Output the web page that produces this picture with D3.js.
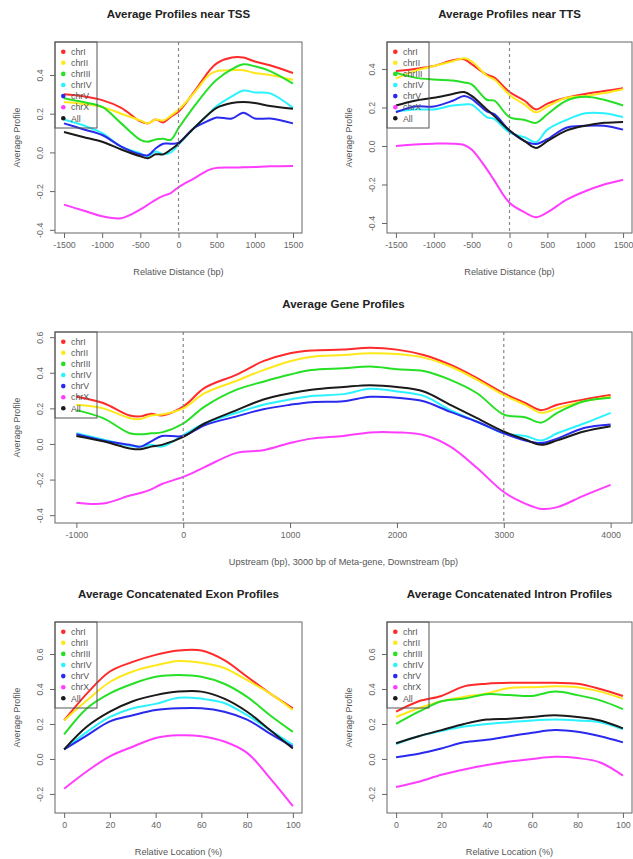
<!DOCTYPE html>
<html>
<head>
<meta charset="utf-8">
<script src="https://cdn.jsdelivr.net/npm/d3@7/dist/d3.min.js"></script>
<style>
  body { margin: 0; background: #fff; }
  svg { display: block; font-family: "Liberation Sans", Arial, sans-serif; }
</style>
</head>
<body>
<div id="chart"></div>
<script>
// ---- data ----

const seriesNames = ["chrI", "chrII", "chrIII", "chrIV", "chrV", "chrX", "All"];

// near TSS
const tssX = [-1500, -1250, -1000, -750, -500, -400, -300, -200, -100, 0, 200, 400, 500, 700, 850, 1000, 1200, 1500];
const tssChrI   = [0.30, 0.29, 0.27, 0.23, 0.16, 0.15, 0.17, 0.155, 0.185, 0.21, 0.31, 0.42, 0.46, 0.49, 0.49, 0.47, 0.45, 0.41];
const tssChrII  = [0.26, 0.25, 0.235, 0.20, 0.165, 0.15, 0.17, 0.165, 0.19, 0.22, 0.305, 0.40, 0.42, 0.425, 0.425, 0.41, 0.40, 0.375];
const tssChrIII = [0.28, 0.26, 0.235, 0.15, 0.065, 0.055, 0.067, 0.07, 0.065, 0.125, 0.235, 0.335, 0.375, 0.43, 0.455, 0.445, 0.42, 0.355];
const tssChrIV  = [0.17, 0.14, 0.10, 0.03, -0.005, -0.02, 0.005, -0.01, 0.0, 0.04, 0.125, 0.20, 0.24, 0.29, 0.32, 0.31, 0.305, 0.23];
const tssChrV   = [0.15, 0.12, 0.09, 0.03, -0.01, -0.015, 0.02, 0.045, 0.045, 0.05, 0.125, 0.165, 0.18, 0.175, 0.205, 0.175, 0.175, 0.15];
const tssChrX   = [-0.27, -0.30, -0.33, -0.34, -0.295, -0.27, -0.245, -0.225, -0.21, -0.18, -0.135, -0.09, -0.08, -0.078, -0.077, -0.075, -0.072, -0.07];
const tssAll    = [0.105, 0.08, 0.055, 0.015, -0.02, -0.03, -0.01, -0.01, 0.015, 0.045, 0.125, 0.20, 0.23, 0.255, 0.26, 0.255, 0.24, 0.225];

// near TTS
const ttsX = [-1500, -1250, -1000, -750, -600, -500, -300, -200, 0, 200, 350, 500, 750, 1000, 1250, 1500];
const ttsChrI   = [0.39, 0.40, 0.415, 0.445, 0.45, 0.425, 0.37, 0.355, 0.28, 0.235, 0.19, 0.22, 0.25, 0.27, 0.285, 0.30];
const ttsChrII  = [0.35, 0.39, 0.415, 0.44, 0.455, 0.44, 0.365, 0.345, 0.265, 0.215, 0.175, 0.205, 0.25, 0.26, 0.275, 0.295];
const ttsChrIII = [0.38, 0.355, 0.345, 0.34, 0.33, 0.32, 0.24, 0.235, 0.15, 0.135, 0.12, 0.165, 0.235, 0.255, 0.24, 0.21];
const ttsChrIV  = [0.18, 0.19, 0.19, 0.21, 0.215, 0.215, 0.15, 0.14, 0.07, 0.045, 0.02, 0.085, 0.135, 0.17, 0.17, 0.15];
const ttsChrV   = [0.175, 0.205, 0.205, 0.235, 0.26, 0.245, 0.18, 0.165, 0.08, 0.025, 0.01, 0.035, 0.095, 0.105, 0.105, 0.085];
const ttsChrX   = [0.0, 0.008, 0.012, 0.012, 0.005, -0.018, -0.12, -0.18, -0.295, -0.345, -0.37, -0.345, -0.28, -0.235, -0.2, -0.175];
const ttsAll    = [0.21, 0.235, 0.25, 0.27, 0.28, 0.26, 0.19, 0.155, 0.08, 0.025, -0.01, 0.025, 0.08, 0.105, 0.12, 0.125];

// meta-gene
const geneX = [-1000, -750, -500, -400, -300, -200, 0, 200, 500, 750, 1000, 1200, 1500, 1750, 2000, 2250, 2500, 2750, 3000, 3200, 3350, 3500, 3750, 4000];
const geneChrI   = [0.265, 0.23, 0.16, 0.155, 0.17, 0.16, 0.21, 0.315, 0.39, 0.465, 0.51, 0.525, 0.53, 0.54, 0.53, 0.50, 0.445, 0.37, 0.285, 0.23, 0.19, 0.22, 0.25, 0.275];
const geneChrII  = [0.22, 0.20, 0.145, 0.14, 0.16, 0.165, 0.20, 0.285, 0.355, 0.415, 0.465, 0.49, 0.50, 0.51, 0.505, 0.485, 0.435, 0.36, 0.275, 0.22, 0.175, 0.20, 0.24, 0.265];
const geneChrIII = [0.19, 0.145, 0.06, 0.055, 0.06, 0.065, 0.115, 0.21, 0.305, 0.35, 0.39, 0.415, 0.425, 0.435, 0.42, 0.41, 0.36, 0.285, 0.165, 0.15, 0.12, 0.175, 0.24, 0.26];
const geneChrIV  = [0.06, 0.025, -0.01, -0.015, -0.005, -0.015, 0.05, 0.115, 0.175, 0.22, 0.25, 0.27, 0.28, 0.31, 0.295, 0.27, 0.19, 0.125, 0.06, 0.045, 0.02, 0.06, 0.115, 0.175];
const geneChrV   = [0.055, 0.02, -0.005, -0.015, 0.015, 0.045, 0.045, 0.105, 0.155, 0.195, 0.22, 0.235, 0.24, 0.265, 0.26, 0.24, 0.18, 0.125, 0.06, 0.02, 0.005, 0.03, 0.09, 0.11];
const geneChrX   = [-0.33, -0.335, -0.29, -0.275, -0.255, -0.225, -0.185, -0.13, -0.05, -0.035, 0.005, 0.03, 0.045, 0.065, 0.065, 0.05, -0.015, -0.135, -0.27, -0.335, -0.365, -0.355, -0.29, -0.23];
const geneAll    = [0.045, 0.015, -0.025, -0.03, -0.015, -0.005, 0.04, 0.115, 0.19, 0.25, 0.285, 0.305, 0.32, 0.33, 0.32, 0.295, 0.22, 0.145, 0.07, 0.025, -0.005, 0.02, 0.07, 0.10];

// concatenated exons
const exonX = [0, 10, 20, 30, 40, 50, 60, 70, 80, 90, 100];
const exonChrI   = [0.22, 0.375, 0.50, 0.555, 0.595, 0.62, 0.62, 0.565, 0.47, 0.375, 0.29];
const exonChrII  = [0.22, 0.335, 0.44, 0.50, 0.535, 0.56, 0.55, 0.52, 0.45, 0.375, 0.28];
const exonChrIII = [0.14, 0.29, 0.375, 0.43, 0.47, 0.48, 0.47, 0.43, 0.355, 0.25, 0.155];
const exonChrIV  = [0.055, 0.155, 0.24, 0.29, 0.315, 0.35, 0.345, 0.32, 0.25, 0.165, 0.08];
const exonChrV   = [0.055, 0.135, 0.215, 0.25, 0.28, 0.29, 0.29, 0.27, 0.225, 0.145, 0.07];
const exonChrX   = [-0.17, -0.07, 0.015, 0.07, 0.12, 0.135, 0.13, 0.10, 0.035, -0.11, -0.27];
const exonAll    = [0.055, 0.185, 0.27, 0.33, 0.365, 0.385, 0.385, 0.345, 0.27, 0.165, 0.06];

// concatenated introns
const intronX = [0, 10, 20, 30, 40, 50, 60, 70, 80, 90, 100];
const intronChrI   = [0.27, 0.33, 0.36, 0.415, 0.43, 0.435, 0.435, 0.435, 0.43, 0.40, 0.36];
const intronChrII  = [0.24, 0.29, 0.33, 0.355, 0.375, 0.405, 0.41, 0.415, 0.41, 0.385, 0.345];
const intronChrIII = [0.20, 0.27, 0.33, 0.345, 0.37, 0.365, 0.36, 0.385, 0.365, 0.335, 0.285];
const intronChrIV  = [0.085, 0.13, 0.16, 0.185, 0.20, 0.21, 0.22, 0.225, 0.22, 0.21, 0.17];
const intronChrV   = [0.01, 0.03, 0.06, 0.095, 0.11, 0.13, 0.15, 0.165, 0.155, 0.13, 0.095];
const intronChrX   = [-0.16, -0.13, -0.09, -0.06, -0.035, -0.015, 0.0, 0.012, 0.005, -0.02, -0.095];
const intronAll    = [0.09, 0.13, 0.165, 0.20, 0.225, 0.23, 0.24, 0.25, 0.24, 0.22, 0.175];

// tick values
const distTicks = [-1500, -1000, -500, 0, 500, 1000, 1500];
const geneTicks = [-1000, 0, 1000, 2000, 3000, 4000];
const pctTicks = [0, 20, 40, 60, 80, 100];
const profTicks = [-0.4, -0.2, 0.0, 0.2, 0.4];
const geneProfTicks = [-0.4, -0.2, 0.0, 0.2, 0.4, 0.6];
const concProfTicks = [-0.2, 0.0, 0.2, 0.4, 0.6];

const colors = ["#ff2a2a", "#ffe81a", "#26e026", "#2af2ff", "#2a2aee", "#ff3dff", "#1a1a1a"];

// ---- drawing ----

const svg = d3.select("#chart")
  .append("svg")
    .attr("width", 633)
    .attr("height", 859);

function drawPanel(p) {
  const x = d3.scaleLinear().domain(p.xDomain).range([p.left, p.right]);
  const y = d3.scaleLinear().domain(p.yDomain).range([p.bottom, p.top]);
  const g = svg.append("g");

  const line = d3.line()
    .x(d => x(d[0]))
    .y(d => y(d[1]))
    .curve(d3.curveCatmullRom.alpha(0.5));

  // profile lines
  p.series.forEach((vals, i) => {
    g.append("path")
      .datum(vals.map((v, j) => [p.xs[j], v]))
      .attr("fill", "none")
      .attr("stroke", colors[i])
      .attr("stroke-width", 2)
      .attr("stroke-linejoin", "round")
      .attr("d", line);
  });

  // dashed markers (TSS / TTS positions)
  p.marks.forEach(m => {
    g.append("line")
      .attr("x1", x(m)).attr("x2", x(m))
      .attr("y1", p.top).attr("y2", p.bottom)
      .attr("stroke", "#888")
      .attr("stroke-width", 1.2)
      .attr("stroke-dasharray", "3,3");
  });

  // plot box
  g.append("rect")
    .attr("x", p.left).attr("y", p.top)
    .attr("width", p.right - p.left).attr("height", p.bottom - p.top)
    .attr("fill", "none")
    .attr("stroke", "#666")
    .attr("stroke-width", 1);

  // x axis
  const xa = g.append("g")
    .attr("transform", `translate(0,${p.bottom})`)
    .call(d3.axisBottom(x).tickValues(p.xTicks).tickSize(5).tickSizeOuter(0));
  xa.select(".domain").remove();
  xa.selectAll(".tick line").attr("stroke", "#666");
  xa.selectAll(".tick text")
    .attr("y", 15).attr("dy", 0)
    .attr("fill", "#666")
    .style("font-size", "8.8px")
    .text(d => String(d));

  // y axis, labels parallel to the axis like R
  const ya = g.append("g")
    .attr("transform", `translate(${p.left},0)`)
    .call(d3.axisLeft(y).tickValues(p.yTicks).tickSize(5));
  ya.select(".domain").remove();
  ya.selectAll(".tick line").attr("stroke", "#666");
  ya.selectAll(".tick text")
    .attr("transform", "rotate(-90)")
    .attr("x", 0).attr("y", -12).attr("dy", 0)
    .style("text-anchor", "middle")
    .attr("fill", "#666")
    .style("font-size", "8.8px")
    .text(d => d.toFixed(1));

  // title
  g.append("text")
    .attr("x", (p.left + p.right) / 2)
    .attr("y", p.top - 24)
    .style("text-anchor", "middle")
    .style("font-size", "11.5px")
    .style("font-weight", "bold")
    .attr("fill", "#222")
    .text(p.title);

  // axis titles
  g.append("text")
    .attr("x", (p.left + p.right) / 2)
    .attr("y", p.bottom + 42)
    .style("text-anchor", "middle")
    .style("font-size", "9.2px")
    .attr("fill", "#555")
    .text(p.xLabel);

  g.append("text")
    .attr("transform", `translate(${p.left - 35},${(p.top + p.bottom) / 2}) rotate(-90)`)
    .style("text-anchor", "middle")
    .style("font-size", "8.8px")
    .attr("fill", "#555")
    .text("Average Profile");

  // legend (no fill, lines show through)
  const lg = g.append("g").attr("transform", `translate(${p.left},${p.top})`);
  lg.append("rect")
    .attr("width", 42).attr("height", 86)
    .attr("fill", "none")
    .attr("stroke", "#555")
    .attr("stroke-width", 1);
  seriesNames.forEach((name, i) => {
    lg.append("circle")
      .attr("cx", 8.3).attr("cy", 9.7 + i * 11.1)
      .attr("r", 2.3)
      .attr("fill", colors[i]);
    lg.append("text")
      .attr("x", 16).attr("y", 12.9 + i * 11.1)
      .style("font-size", "8.8px")
      .attr("fill", "#555")
      .text(name);
  });
}

drawPanel({
  title: "Average Profiles near TSS", xLabel: "Relative Distance (bp)",
  left: 55, right: 302, top: 42, bottom: 233,
  xDomain: [-1618, 1618], yDomain: [-0.4165, 0.5705],
  xTicks: distTicks, yTicks: profTicks, marks: [0],
  xs: tssX, series: [tssChrI, tssChrII, tssChrIII, tssChrIV, tssChrV, tssChrX, tssAll]
});

drawPanel({
  title: "Average Profiles near TTS", xLabel: "Relative Distance (bp)",
  left: 387, right: 632, top: 42, bottom: 233,
  xDomain: [-1618, 1618], yDomain: [-0.452, 0.540],
  xTicks: distTicks, yTicks: profTicks, marks: [0],
  xs: ttsX, series: [ttsChrI, ttsChrII, ttsChrIII, ttsChrIV, ttsChrV, ttsChrX, ttsAll]
});

drawPanel({
  title: "Average Gene Profiles", xLabel: "Upstream (bp), 3000 bp of Meta-gene, Downstream (bp)",
  left: 55, right: 632, top: 332, bottom: 523,
  xDomain: [-1200, 4200], yDomain: [-0.444, 0.629],
  xTicks: geneTicks, yTicks: geneProfTicks, marks: [0, 3000],
  xs: geneX, series: [geneChrI, geneChrII, geneChrIII, geneChrIV, geneChrV, geneChrX, geneAll]
});

drawPanel({
  title: "Average Concatenated Exon Profiles", xLabel: "Relative Location (%)",
  left: 55, right: 302, top: 622, bottom: 813,
  xDomain: [-4, 104], yDomain: [-0.309, 0.783],
  xTicks: pctTicks, yTicks: concProfTicks, marks: [],
  xs: exonX, series: [exonChrI, exonChrII, exonChrIII, exonChrIV, exonChrV, exonChrX, exonAll]
});

drawPanel({
  title: "Average Concatenated Intron Profiles", xLabel: "Relative Location (%)",
  left: 387, right: 632, top: 622, bottom: 813,
  xDomain: [-4, 104], yDomain: [-0.309, 0.783],
  xTicks: pctTicks, yTicks: concProfTicks, marks: [],
  xs: intronX, series: [intronChrI, intronChrII, intronChrIII, intronChrIV, intronChrV, intronChrX, intronAll]
});
</script>
</body>
</html>
